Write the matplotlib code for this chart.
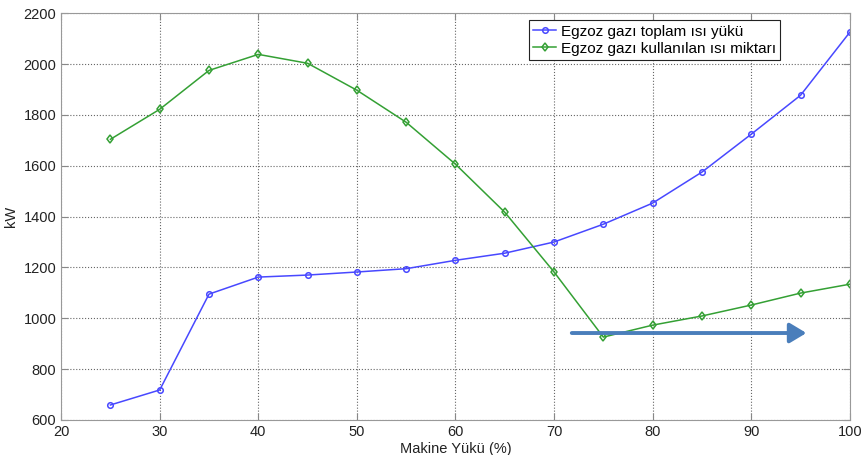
import matplotlib
matplotlib.use("Agg")
import matplotlib.pyplot as plt

plt.rcParams['font.family'] = ['Liberation Sans', 'DejaVu Sans']

# Makine yükü (%)
yuk = [25, 30, 35, 40, 45, 50, 55, 60, 65, 70, 75, 80, 85, 90, 95, 100]
# Egzoz gazı toplam ısı yükü (kW)
toplam = [659, 718, 1095, 1162, 1170, 1182, 1195, 1228, 1256, 1300,
          1370, 1453, 1575, 1724, 1877, 2125]
# Egzoz gazı kullanılan ısı miktarı (kW)
kullanilan = [1704, 1822, 1975, 2038, 2003, 1897, 1771, 1606, 1417, 1182,
              926, 973, 1009, 1052, 1099, 1134]

xticks = [20, 30, 40, 50, 60, 70, 80, 90, 100]
yticks = [600, 800, 1000, 1200, 1400, 1600, 1800, 2000, 2200]

# arrow annotation (start, end) in data units
ok_bas = (71.8, 942)
ok_son = (95.6, 942)

fig = plt.figure(figsize=(8.61, 4.55), dpi=100)
ax = fig.add_axes([0.071, 0.077, 0.916, 0.894])

ax.plot(yuk, toplam, color='#4848ff', lw=1.1, marker='o', ms=4,
        mfc='none', mew=1.1, label='Egzoz gazı toplam ısı yükü')
ax.plot(yuk, kullanilan, color='#34a034', lw=1.1, marker='d', ms=4.5,
        mfc='none', mew=1.1, label='Egzoz gazı kullanılan ısı miktarı')

ax.annotate('', xy=ok_son, xytext=ok_bas,
            arrowprops=dict(arrowstyle='-|>,head_length=1.0,head_width=0.6',
                            color='#4a7ebb', lw=2.8, shrinkA=0, shrinkB=0))

ax.set_xlim(20, 100)
ax.set_ylim(600, 2200)
ax.set_xticks(xticks)
ax.set_yticks(yticks)
ax.grid(True, ls=':', color='#666666', lw=0.8)
ax.tick_params(direction='in', top=True, right=True, colors='#888888',
               labelcolor='#222222', labelsize=10.5, length=5)
for s in ax.spines.values():
    s.set_color('#999999')

ax.set_xlabel('Makine Yükü (%)', fontsize=10.5, labelpad=2, color='#222222')
ax.set_ylabel('kW', fontsize=10.5, labelpad=4, color='#222222')

leg = ax.legend(loc='upper right', bbox_to_anchor=(0.912, 0.983),
                borderaxespad=0, fontsize=11, fancybox=False, framealpha=1,
                edgecolor='#222222', borderpad=0.3, labelspacing=0.2,
                handlelength=1.5, handletextpad=0.3)
leg.get_frame().set_linewidth(0.8)

fig.savefig('out.png', dpi=100)
